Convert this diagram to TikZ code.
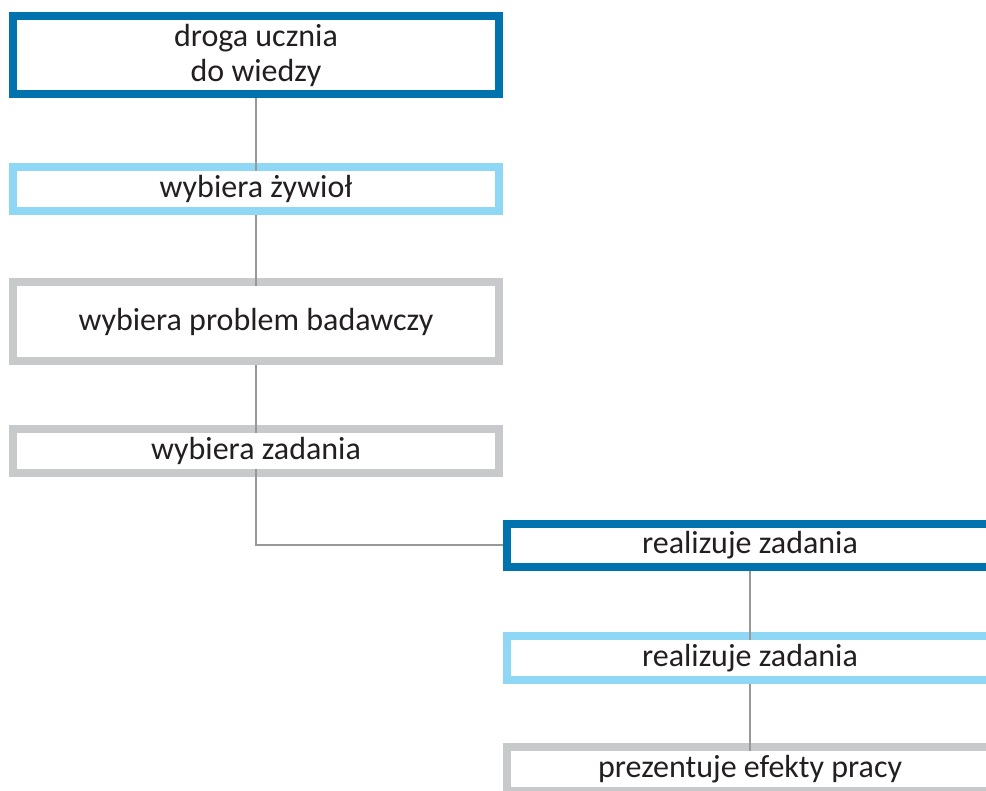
\documentclass[tikz,border=0pt]{standalone}
\usepackage{fontspec}
\setmainfont{Carlito}
\definecolor{dblue}{HTML}{0072AE}
\definecolor{lblue}{HTML}{8ED8F6}
\definecolor{lgray}{HTML}{C8C9CA}
\definecolor{cgray}{HTML}{98989A}
\definecolor{txt}{HTML}{231F20}
\begin{document}
\begin{tikzpicture}[x=1pt,y=-1pt,
  box/.style={draw=#1, line width=8pt, fill=white, minimum width=486pt, inner sep=0pt, outer sep=0pt,
    font=\fontsize{32}{35}\selectfont, text=txt, align=center},
  conn/.style={draw=cgray, line width=2pt}]
\useasboundingbox (0,0) rectangle (986,791);
\clip (0,0) rectangle (986,791);
\node[box=dblue, minimum height=78pt] (b1) at (256,55) {droga ucznia\\do wiedzy};
\node[box=lblue, minimum height=44pt] (b2) at (256,189) {wybiera żywioł};
\node[box=lgray, minimum height=79pt] (b3) at (256,321.5) {wybiera problem badawczy};
\node[box=lgray, minimum height=44pt] (b4) at (256,451) {wybiera zadania};
\node[box=dblue, minimum height=43pt] (b5) at (750,545.5) {realizuje zadania};
\node[box=lblue, minimum height=44pt] (b6) at (750,658) {realizuje zadania};
\node[box=lgray, minimum height=44pt] (b7) at (750,769) {prezentuje efekty pracy};
\draw[conn] (b1.south) ++(0,4) -- ([yshift=-4pt]b2.north);
\draw[conn] (b2.south) ++(0,4) -- ([yshift=-4pt]b3.north);
\draw[conn] (b3.south) ++(0,4) -- ([yshift=-4pt]b4.north);
\draw[conn] ([yshift=4pt]b4.south) |- ([xshift=-4pt]b5.west);
\draw[conn] (b5.south) ++(0,4) -- ([yshift=-4pt]b6.north);
\draw[conn] (b6.south) ++(0,4) -- ([yshift=-4pt]b7.north);
\end{tikzpicture}
\end{document}
